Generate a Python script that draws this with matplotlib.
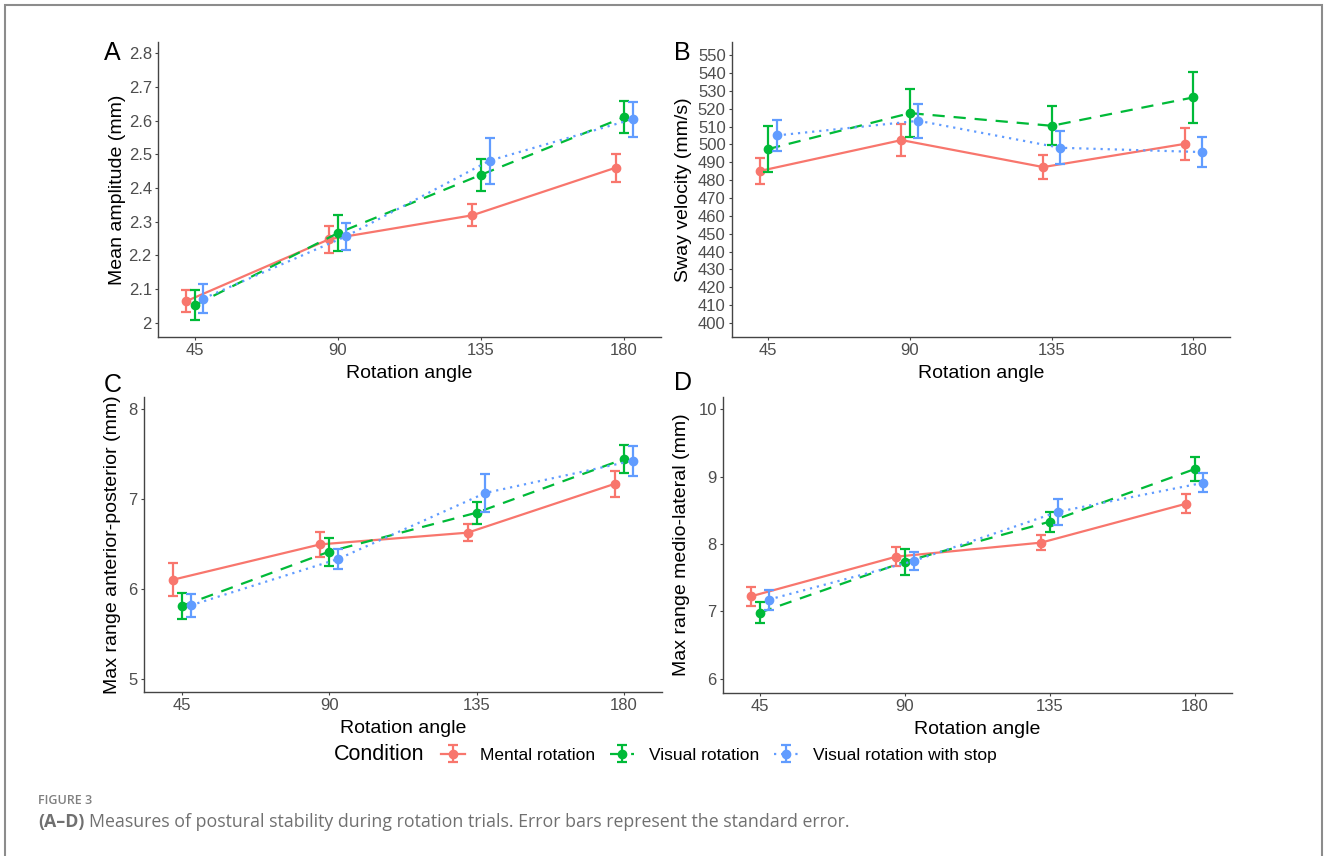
import numpy as np
import matplotlib
matplotlib.use("Agg")
import matplotlib.pyplot as plt
from matplotlib.patches import Rectangle

plt.rcParams['font.family'] = ['Liberation Sans', 'DejaVu Sans']

angles = np.array([45, 90, 135, 180])
conditions = ["Mental rotation", "Visual rotation", "Visual rotation with stop"]
colors = ["#F8766D", "#00BA38", "#619CFF"]
styles = ["-", (0, (5.5, 4)), (0, (1, 2.2))]
dodge = [-2.7, 0.0, 2.7]

# panel A - mean amplitude (mm)
amp_mean = [[2.064, 2.248, 2.319, 2.460],
            [2.052, 2.266, 2.439, 2.610],
            [2.072, 2.257, 2.481, 2.604]]
amp_se = [[0.032, 0.040, 0.033, 0.042],
          [0.044, 0.054, 0.047, 0.048],
          [0.044, 0.040, 0.068, 0.052]]

# panel B - sway velocity (mm/s)
vel_mean = [[485.1, 502.4, 487.3, 500.3],
            [497.4, 517.5, 510.4, 526.3],
            [505.0, 513.2, 498.1, 495.7]]
vel_se = [[7.4, 9.0, 6.7, 9.1],
          [12.8, 13.5, 11.0, 14.2],
          [8.5, 9.4, 9.3, 8.3]]

# panel C - max range anterior-posterior (mm)
ap_mean = [[6.103, 6.496, 6.626, 7.170],
           [5.811, 6.415, 6.848, 7.444],
           [5.818, 6.333, 7.067, 7.426]]
ap_se = [[0.186, 0.136, 0.093, 0.143],
         [0.141, 0.156, 0.124, 0.154],
         [0.130, 0.115, 0.206, 0.167]]

# panel D - max range medio-lateral (mm)
ml_mean = [[7.225, 7.812, 8.020, 8.597],
           [6.983, 7.738, 8.331, 9.111],
           [7.175, 7.748, 8.479, 8.908]]
ml_se = [[0.143, 0.143, 0.109, 0.141],
         [0.158, 0.193, 0.146, 0.173],
         [0.148, 0.129, 0.193, 0.141]]

W, H = 1328, 856
fig = plt.figure(figsize=(W / 100, H / 100), dpi=100)

def px_axes(x0, y0, x1, y1):
    return fig.add_axes([x0 / W, 1 - y1 / H, (x1 - x0) / W, (y1 - y0) / H])

panels = [
    dict(box=(158, 42, 661, 337), mean=amp_mean, se=amp_se, ylim=(1.958, 2.833),
         yticks=[2, 2.1, 2.2, 2.3, 2.4, 2.5, 2.6, 2.7, 2.8],
         ylabels=["2", "2.1", "2.2", "2.3", "2.4", "2.5", "2.6", "2.7", "2.8"],
         ylabel="Mean amplitude (mm)", letter="A", lx=112, ly=53, yl_x=118),
    dict(box=(732, 42, 1230, 337), mean=vel_mean, se=vel_se, ylim=(392.2, 557.3),
         yticks=list(range(400, 551, 10)), ylabels=[str(v) for v in range(400, 551, 10)],
         ylabel="Sway velocity (mm/s)", letter="B", lx=682, ly=53, yl_x=683),
    dict(box=(144, 397, 662, 692), mean=ap_mean, se=ap_se, ylim=(4.856, 8.133),
         yticks=[5, 6, 7, 8], ylabels=["5", "6", "7", "8"],
         ylabel="Max range anterior-posterior (mm)", letter="C", lx=113, ly=385, yl_x=113),
    dict(box=(723, 397, 1232, 693), mean=ml_mean, se=ml_se, ylim=(5.79, 10.18),
         yticks=[6, 7, 8, 9, 10], ylabels=["6", "7", "8", "9", "10"],
         ylabel="Max range medio-lateral (mm)", letter="D", lx=683, ly=383, yl_x=681),
]

handles = []
for p in panels:
    ax = px_axes(*p["box"])
    for i in range(3):
        h = ax.errorbar(angles + dodge[i], p["mean"][i], yerr=p["se"][i],
                        color=colors[i], linestyle=styles[i], linewidth=1.6,
                        marker="o", markersize=6, elinewidth=1.6,
                        capsize=3.6, capthick=1.6, zorder=2 + i)
        if p["letter"] == "A":
            handles.append(h)
    ax.set_xlim(33.5, 191.6)
    ax.set_ylim(*p["ylim"])
    ax.set_xticks(angles)
    ax.set_xticklabels([str(a) for a in angles])
    ax.set_yticks(p["yticks"])
    ax.set_yticklabels(p["ylabels"])
    for s in ["top", "right"]:
        ax.spines[s].set_visible(False)
    for s in ["left", "bottom"]:
        ax.spines[s].set_color("#444444")
        ax.spines[s].set_linewidth(1.0)
    ax.tick_params(axis="both", length=2.5, width=0.8, color="#444444",
                   labelsize=12, labelcolor="#4D4D4D", pad=2)
    ax.set_xlabel("Rotation angle", fontsize=14, labelpad=5)
    x0, y0, x1, y1 = p["box"]
    ax.yaxis.set_label_coords((p["yl_x"] - x0) / (x1 - x0), 0.5)
    ax.set_ylabel(p["ylabel"], fontsize=14, va="center")
    fig.text(p["lx"] / W, 1 - p["ly"] / H, p["letter"], fontsize=18,
             ha="center", va="center")

# legend
fig.text(379 / W, 1 - 755 / H, "Condition", fontsize=15.5, ha="center", va="center")
fig.legend(handles, conditions, loc="center left", bbox_to_anchor=(441 / W, 1 - 755 / H),
           ncol=3, frameon=False, fontsize=12.5, handlelength=1.4, handletextpad=0.85,
           columnspacing=0.85, borderaxespad=0, borderpad=0)

# caption
fig.text(38 / W, 1 - 800 / H, "FIGURE 3", fontsize=9, color="#808080",
         family=["Open Sans", "DejaVu Sans"], va="center", weight="semibold")
t1 = fig.text(38 / W, 1 - 822 / H, "(A\u2013D)", fontsize=12.8, color="#707070",
              family=["Open Sans", "DejaVu Sans"], va="center", weight="bold")
r = fig.canvas.get_renderer()
bb = t1.get_window_extent(renderer=r)
fig.text(bb.x1 / W + 5 / W, 1 - 822 / H,
         "Measures of postural stability during rotation trials. Error bars represent the standard error.",
         fontsize=12.8, color="#707070", family=["Open Sans", "DejaVu Sans"], va="center")

# outer frame
fig.patches.append(Rectangle((5 / W, -0.05), 1317 / W, 1 - 5 / H + 0.05,
                             transform=fig.transFigure, fill=False,
                             edgecolor="#8c8c8c", linewidth=1.5))

fig.savefig("out.png", dpi=100)
